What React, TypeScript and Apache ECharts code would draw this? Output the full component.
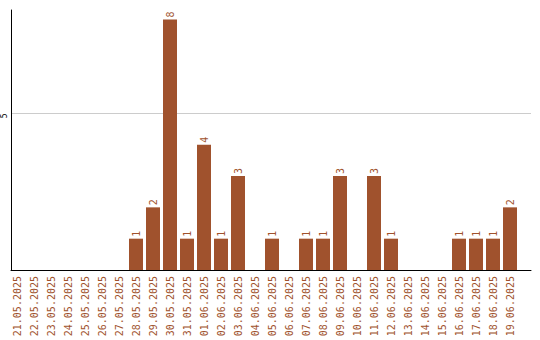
import React, { useEffect, useRef } from "react";
import * as echarts from "echarts";

const categories = [
  "21.05.2025", "22.05.2025", "23.05.2025", "24.05.2025", "25.05.2025",
  "26.05.2025", "27.05.2025", "28.05.2025", "29.05.2025", "30.05.2025",
  "31.05.2025", "01.06.2025", "02.06.2025", "03.06.2025", "04.06.2025",
  "05.06.2025", "06.06.2025", "07.06.2025", "08.06.2025", "09.06.2025",
  "10.06.2025", "11.06.2025", "12.06.2025", "13.06.2025", "14.06.2025",
  "15.06.2025", "16.06.2025", "17.06.2025", "18.06.2025", "19.06.2025",
];
const values = [
  0, 0, 0, 0, 0, 0, 0, 1, 2, 8,
  1, 4, 1, 3, 0, 1, 0, 1, 1, 3,
  0, 3, 1, 0, 0, 0, 1, 1, 1, 2,
];

const COLOR = "#A0522D";
const FONT = "DejaVu Sans Mono";
const Y_MAX = 8.3;

export default function App() {
  const ref = useRef<HTMLDivElement>(null);
  useEffect(() => {
    if (!ref.current) return;
    const chart = echarts.init(ref.current, null, { renderer: "svg" });
    chart.setOption({
      animation: false,
      backgroundColor: "#ffffff",
      grid: [
        { left: 8.5, width: 510, top: 10, bottom: 70, outerBoundsMode: "none" },
        { left: 11, right: 9, top: 10, bottom: 70, outerBoundsMode: "none" },
      ],
      xAxis: [
        {
          type: "category",
          gridIndex: 0,
          data: categories,
          boundaryGap: true,
          axisLine: { show: false },
          axisTick: { show: false },
          axisLabel: {
            rotate: 90,
            interval: 0,
            margin: 6,
            color: COLOR,
            fontFamily: FONT,
            fontSize: 10,
          },
        },
        {
          type: "value",
          gridIndex: 1,
          min: 0,
          max: 1,
          axisLine: { show: true, onZero: false, lineStyle: { color: "#000", width: 1 } },
          axisTick: { show: false },
          axisLabel: { show: false },
          splitLine: { show: false },
        },
      ],
      yAxis: [
        {
          type: "value",
          gridIndex: 0,
          min: 0,
          max: Y_MAX,
          show: false,
          splitLine: { show: false },
        },
        {
          type: "value",
          gridIndex: 1,
          min: 0,
          max: Y_MAX,
          interval: 5,
          axisLine: { show: true, lineStyle: { color: "#000", width: 1 } },
          axisTick: { show: false },
          axisLabel: {
            show: true,
            rotate: 90,
            align: "right",
            margin: 3,
            fontSize: 8,
            color: "#000",
            fontFamily: FONT,
            showMinLabel: false,
            showMaxLabel: false,
          },
          splitLine: {
            show: true,
            showMinLine: false,
            showMaxLine: false,
            lineStyle: { color: "#cccccc", width: 1 },
          },
        },
      ],
      series: [
        {
          type: "bar",
          xAxisIndex: 0,
          yAxisIndex: 0,
          data: values,
          barWidth: 14,
          itemStyle: { color: COLOR },
          label: {
            show: true,
            position: "top",
            rotate: 90,
            align: "left",
            verticalAlign: "middle",
            distance: 2,
            color: COLOR,
            fontFamily: FONT,
            fontSize: 10,
            formatter: (p: any) => (p.value ? String(p.value) : ""),
          },
        },
      ],
    });
    return () => chart.dispose();
  }, []);
  return (
    <div style={{ position: "absolute", left: 0, top: 0 }}>
      <div ref={ref} style={{ width: 540, height: 340 }} />
    </div>
  );
}
